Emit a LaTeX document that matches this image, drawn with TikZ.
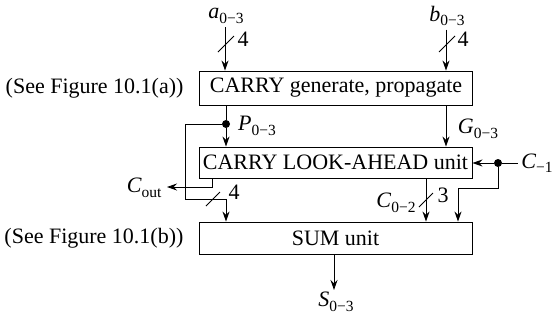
\documentclass[tikz,border=0pt]{standalone}
\usepackage{fontspec}
\setmainfont{Liberation Serif}
\usetikzlibrary{arrows.meta}
\newcommand\sbs[2]{\textit{#1}\raisebox{-0.45ex}{\fontsize{15.5}{15.5}\selectfont #2}}
\begin{document}
\begin{tikzpicture}[x=1pt,y=-1pt, font=\fontsize{22}{24}\selectfont,
 blk/.style={draw, line width=0.9pt, minimum width=273pt, inner sep=0pt},
 arr/.style={-{Stealth[length=10pt,width=7pt]}, line width=0.9pt},
 ln/.style={line width=0.9pt},
 jdot/.style={circle, fill, inner sep=0pt, minimum size=8pt}]
\useasboundingbox (0,0) rectangle (552,322);
% blocks
\node[blk, minimum height=34pt] (cg) at (336,88) {CARRY generate, propagate};
\node[blk, minimum height=31pt] (cla) at (335.5,162.5) {CARRY LOOK-AHEAD unit};
\node[blk, minimum height=32pt] (sum) at (335.5,238) {SUM unit};
% side notes
\node[anchor=east] (na) at (187,88) {(See Figure 10.1(a))};
\node[anchor=east] (nb) at (187,238) {(See Figure 10.1(b))};
% inputs
\node (a) at (226,16) {\sbs{a}{0−3}};
\node (b) at (447,16) {\sbs{b}{0−3}};
\coordinate (ax) at (225,0);
\coordinate (bx) at (446,0);
\draw[arr] (ax |- a.south) -- (ax |- cg.north);
\draw[arr] (bx |- b.south) -- (bx |- cg.north);
\draw[ln] (218,52) -- (234,36);
\draw[ln] (439,52) -- (455,36);
\node (n4a) at (243,39) {4};
\node (n4b) at (463,39) {4};
% P
\coordinate (pj) at (226,124);
\node[jdot] (pd) at (pj) {};
\node (P) at (257,126) {\sbs{P}{0−3}};
\draw[ln] (pj |- cg.south) -- (pd);
\draw[arr] (pd) -- (pj |- cla.north);
\coordinate (ploopa) at (185,124);
\coordinate (ploopb) at (185,199);
\draw[arr] (pd) -- (ploopa) -- (ploopb) -- (pj |- ploopb) -- (pj |- sum.north);
\draw[ln] (206,206) -- (220,192);
\node (n4p) at (234,192) {4};
% G
\coordinate (gx) at (446,0);
\draw[arr] (gx |- cg.south) -- (gx |- cla.north);
\node (G) at (478,129) {\sbs{G}{0−3}};
% Cout
\coordinate (cox) at (212,187);
\coordinate (coe) at (167,187);
\draw[arr] (cox |- cla.south) -- (cox) -- (coe);
\node[anchor=east] (Cout) at (165,188) {\textit{C}\raisebox{-0.45ex}{\fontsize{15.5}{15.5}\selectfont out}};
% C-1
\node (Cm) at (537,163) {\sbs{C}{−1}};
\coordinate (cj) at (498,163);
\node[jdot] (cd) at (cj) {};
\draw[ln] (Cm.west) -- (cd);
\draw[arr] (cd) -- (cla.east |- cj);
\coordinate (cb) at (498,188);
\coordinate (cl) at (458,188);
\draw[arr] (cd) -- (cb) -- (cl) -- (cl |- sum.north);
% C0-2
\coordinate (c2x) at (426,0);
\draw[arr] (c2x |- cla.south) -- (c2x |- sum.north);
\draw[ln] (419,207) -- (433,193);
\node (n3) at (443,195) {3};
\node (C02) at (396,203) {\sbs{C}{0−2}};
% S
\coordinate (sx) at (334,290);
\draw[arr] (sx |- sum.south) -- (sx);
\node (S) at (336,302) {\sbs{S}{0−3}};
\end{tikzpicture}
\end{document}
